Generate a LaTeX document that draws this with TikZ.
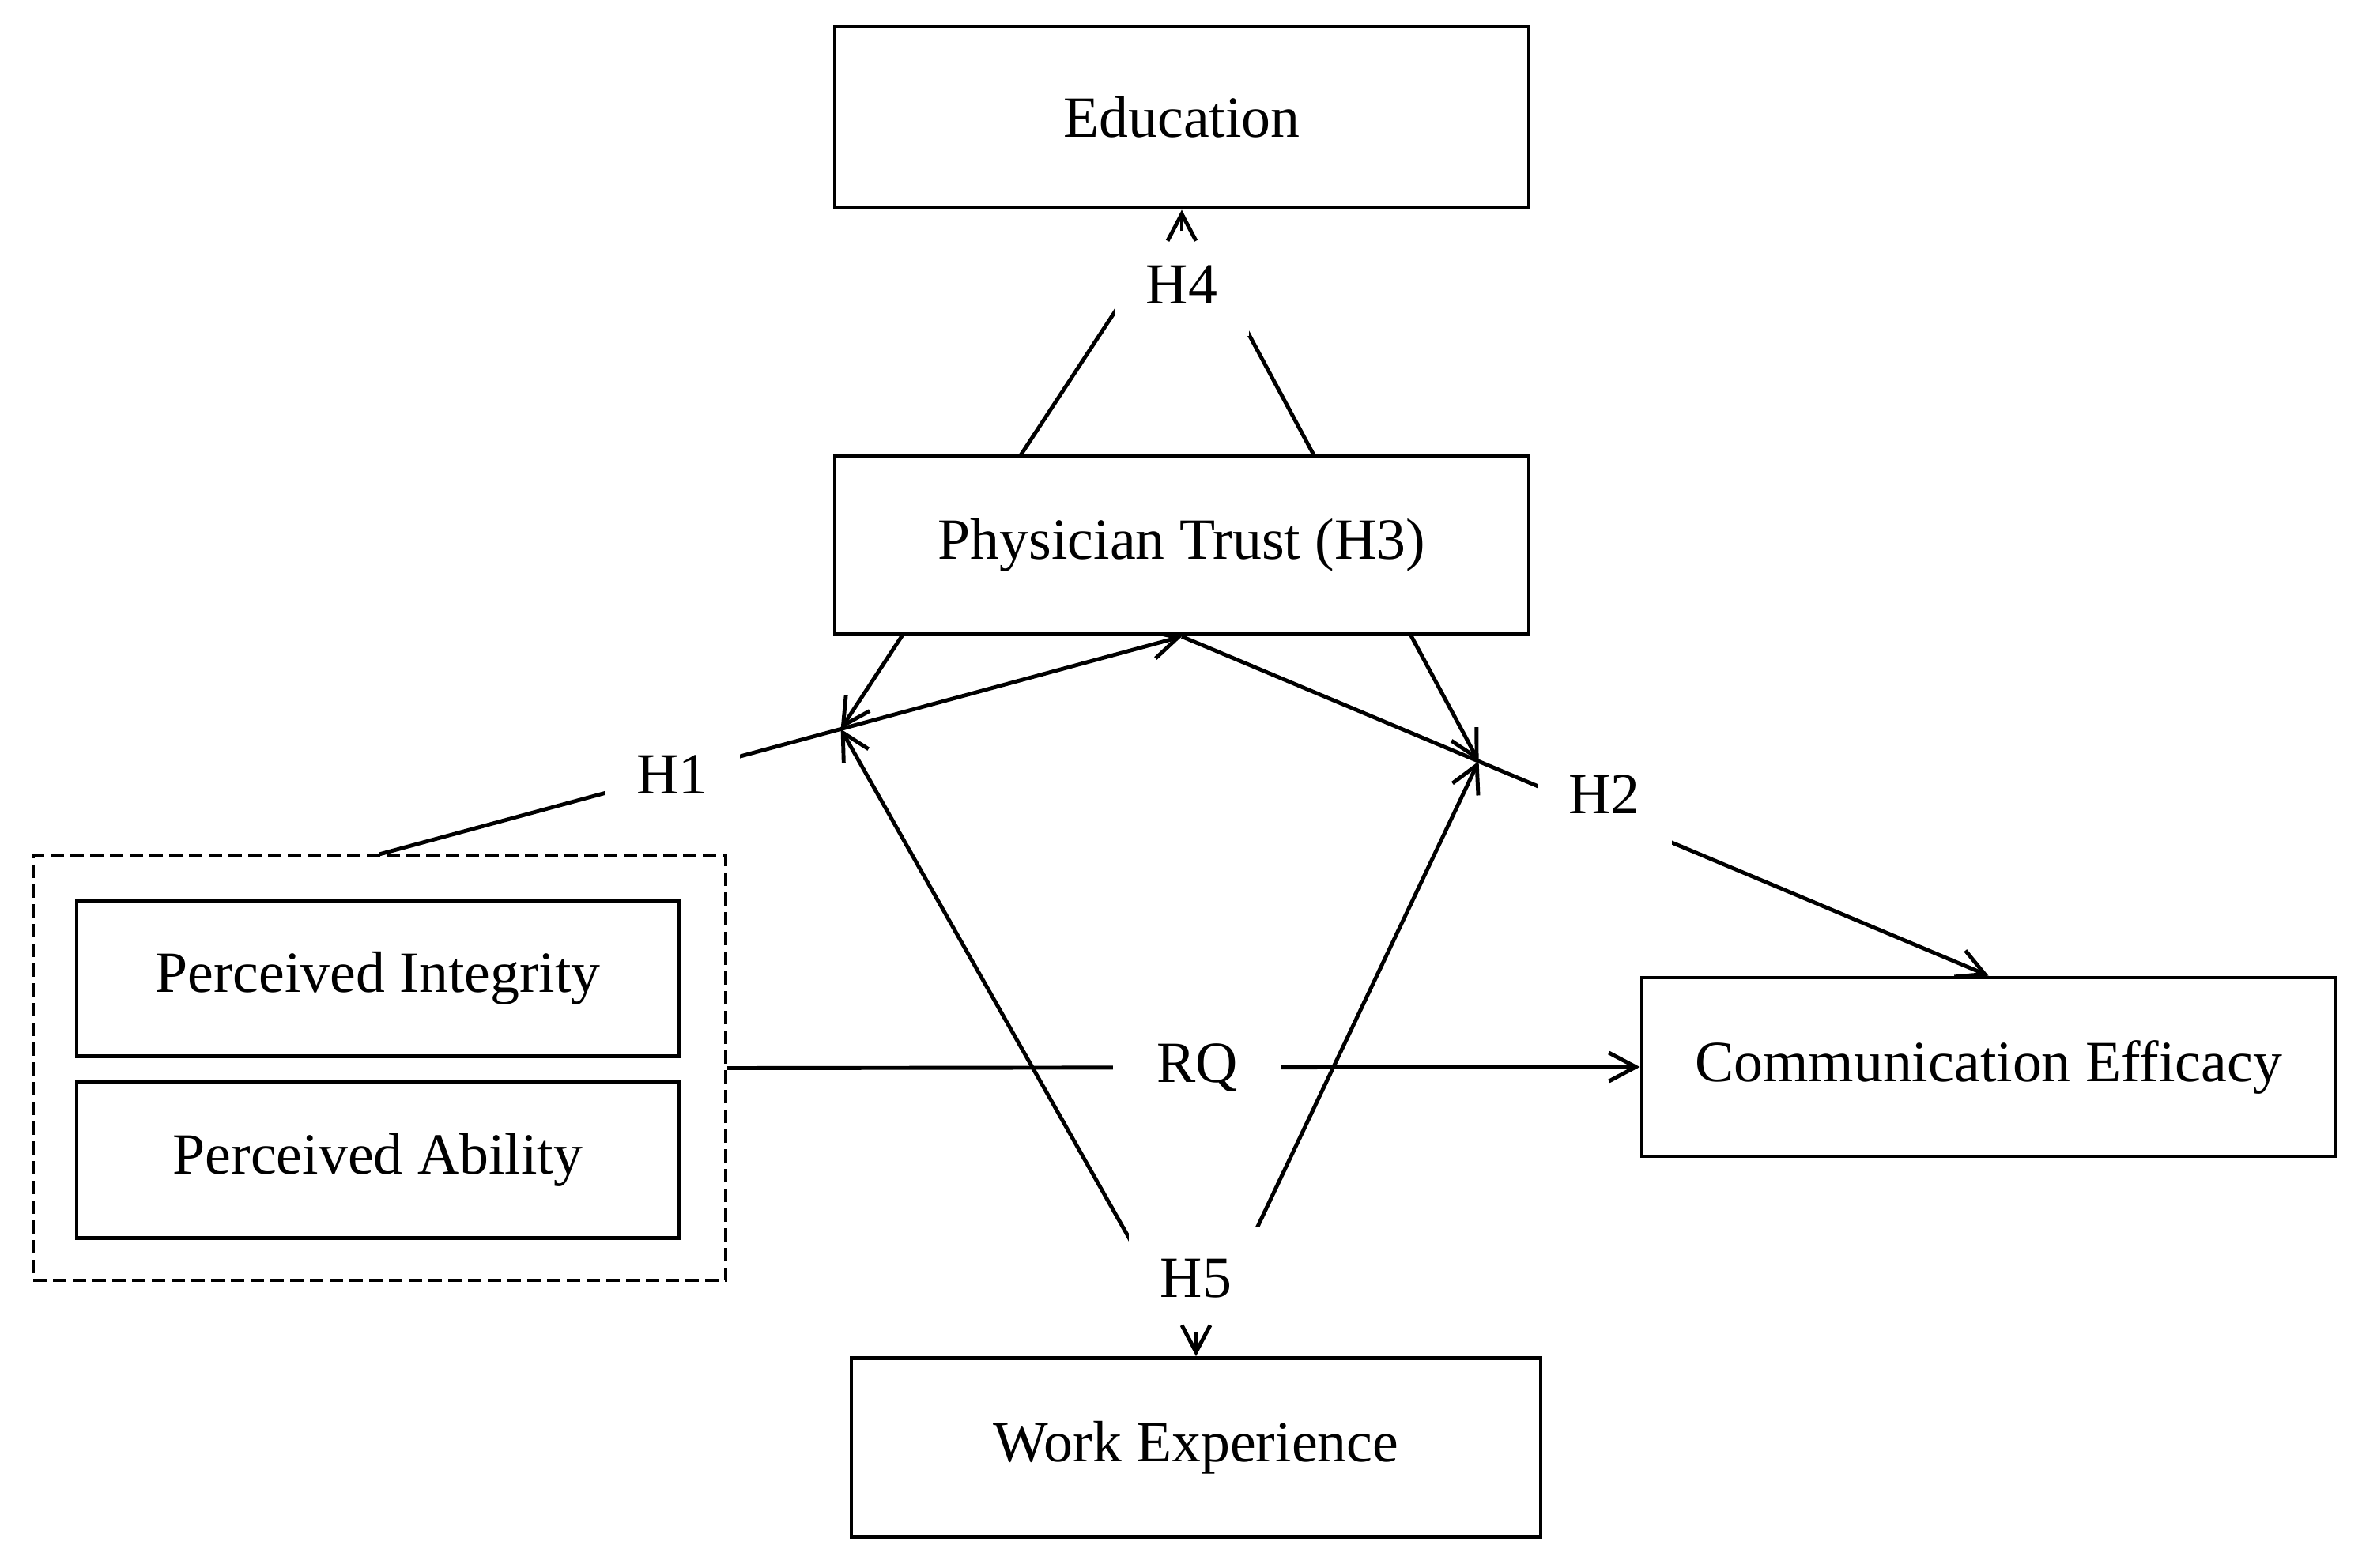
\documentclass[tikz,border=0pt]{standalone}
\usepackage{fontspec}
\setmainfont{Liberation Serif}
\usetikzlibrary{positioning,calc,arrows.meta,backgrounds}

\begin{document}
\begin{tikzpicture}[
font=\fontsize{21}{25}\selectfont,
line width=1.4pt,
>={Straight Barb[length=3.4mm,width=3.6mm]},
conn/.style={line width=1.4pt},
box/.style={draw,rectangle,fill=white,minimum width=8.78cm,minimum height=2.26cm,inner sep=0pt},
inbox/.style={draw,rectangle,fill=white,minimum width=7.62cm,minimum height=1.97cm,inner sep=0pt},
grpbox/.style={draw,rectangle,dash pattern=on 0.17cm off 0.08cm,line width=1.2pt,minimum width=8.76cm,minimum height=5.37cm,inner sep=0pt},
hyp/.style={fill=white,inner xsep=0.4cm,inner ysep=0pt,minimum height=1.3cm}]
\useasboundingbox (0,0) rectangle (29.88,-19.84);

\node (edu) [box,minimum height=2.29cm] at (14.95,-1.485) {Education};
\node (pt) [box,below=3.09cm of edu] {Physician Trust (H3)};
\node (we) [box,minimum width=8.72cm] at (15.13,-18.315) {Work Experience};
\node (ce) [box,minimum width=8.77cm] at (25.155,-13.50) {Communication Efficacy};
\node (grp) [grpbox] at (4.80,-13.515) {};
\node (pi) [inbox] at (4.78,-12.38) {Perceived Integrity};
\node (pa) [inbox,below=0.28cm of pi] {Perceived Ability};

\coordinate (m1) at ($(grp.north)!0.575!(pt.south)$);
\coordinate (m2) at ($(pt.south)!0.368!(ce.north)$);

\node (h1) [hyp] at ($(grp.north)!0.365!(pt.south)$) {H1};
\node (h2) [hyp,yshift=0.25cm] at ($(pt.south)!0.524!(ce.north)$) {H2};
\node (rq) [hyp,inner xsep=0.55cm] at ($(grp.east)!0.515!(ce.west)$) {RQ};
\node (h4) [hyp,below=0.27cm of edu] {H4};
\node (h5) [hyp,above=0.31cm of we] {H5};

\begin{pgfonlayer}{background}
\draw[conn,->] (grp.north) -- (pt.south);
\draw[conn,->] (pt.south) -- (ce.north);
\draw[conn,->] (grp.east) -- (ce.west);
\draw[conn,<-,shorten >=0.45cm] (m1) -- (edu.south);
\draw[conn,<-,shorten >=0.45cm] (m2) -- (edu.south);
\draw[conn,<-,shorten >=0.5cm] (m1) -- (we.north);
\draw[conn,<-,shorten >=0.5cm] (m2) -- (we.north);
\end{pgfonlayer}

\draw[conn,->] (h4) -- (edu);
\draw[conn,->] (h5) -- (we);
\end{tikzpicture}
\end{document}
